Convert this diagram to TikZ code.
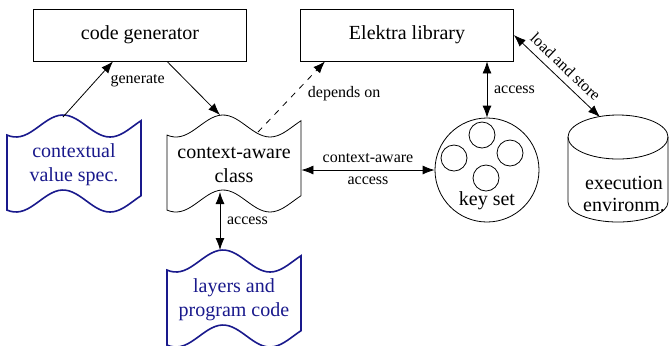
\documentclass[tikz,border=0pt]{standalone}
\usepackage{fontspec}
\setmainfont{LiberationSerif}[Extension=.ttf, UprightFont=*-Regular, BoldFont=*-Bold, ItalicFont=*-Italic, BoldItalicFont=*-BoldItalic]
\usetikzlibrary{arrows.meta}
\definecolor{darkblue}{rgb}{0.1,0.1,0.55}
% wavy sheet drawn round a node
\newcommand{\wavesheet}[2]{%
  \draw[#2, shift={(#1.center)}]
    plot[domain=-67:67, samples=40] (\x, {-39-11*cos(180*(\x+11)/47)})
    -- plot[domain=67:-67, samples=40] (\x, {36-11*cos(180*(\x+11)/47)}) -- cycle;}
\begin{document}
\begin{tikzpicture}[x=0.5pt,y=-0.5pt]
      \tikzstyle{STY1} = [draw, rectangle, minimum height=26pt, minimum width=106.5pt]
      \tikzstyle{STY2} = [minimum width=67pt, minimum height=37pt, align=center, inner sep=1pt]
      \tikzstyle{STY3} = [STY2, text=darkblue]
      \tikzstyle{STY4} = [draw, circle, minimum size=13pt, inner sep=0pt]
      \tikzstyle{STY5} = [-{Latex[length=6pt,width=4.5pt]}]
      \tikzstyle{STY6} = [{Latex[length=6pt,width=4.5pt]}-{Latex[length=6pt,width=4.5pt]}]
      \tikzstyle{STY7} = [font=\footnotesize]

      \useasboundingbox (0,0) rectangle (669,345);

      %%%%% NODES

      \node[STY1](gen) at (140, 35) {code generator};
      \node[STY1](lib) at (407, 35) {Elektra library};

      \node[STY3](spec) at (74, 165) {contextual\\value spec.};
      \node[STY2](cls) at (234, 165) {context-aware\\class};
      \node[STY3](code) at (234, 300) {layers and\\program code};
      \wavesheet{spec}{darkblue, thick}
      \wavesheet{cls}{black}
      \wavesheet{code}{darkblue, thick}

      \node[draw, circle, minimum size=52pt, inner sep=0pt](keys) at (487, 170) {};
      \node[STY4](k1) at (482, 135) {};
      \node[STY4](k2) at (454, 158) {};
      \node[STY4](k3) at (510, 153) {};
      \node[STY4](k4) at (486, 178) {};
      \node(ks) at (487, 201) {key set};

      % cylinder
      \draw (618, 137) ellipse [x radius=25pt, y radius=11pt];
      \draw (568, 137) -- (568, 202) arc[start angle=180, end angle=360, x radius=25pt, y radius=10pt] -- (668, 137);
      \coordinate (envtop) at (600, 117);
      \node[align=center, font=\fontsize{10}{11}\selectfont](env) at (624, 194) {execution\\environm.};

      %%%%% EDGES
      \draw[STY5]  ([shift={(-11,-48)}]spec.center) -- node[STY7, right, pos=0.65, xshift=4pt] {generate} ([xshift=-13.5pt]gen.south);
      \draw[STY5]  ([xshift=13.5pt]gen.south) -- ([shift={(-14,-50)}]cls.center);
      \draw[STY5, dashed]  ([shift={(24,-33)}]cls.center) -- node[STY7, right, pos=0.55, xshift=3pt] {depends on} ([xshift=-41pt]lib.south);
      \draw[STY6]  ([xshift=40pt]lib.south) -- node[STY7, right, midway] {access} (keys.north);
      \draw[STY6]  (lib.east) -- node[STY7, above, sloped, midway] {load and store} (envtop);
      \draw[STY6]  (cls.east |- keys.west) -- node[STY7, above, midway] {context-aware} node[STY7, below, midway] {access} (keys.west);
      \draw[STY6]  ([shift={(-14,27)}]cls.center) -- node[STY7, right, midway] {access} ([shift={(-14,-50)}]code.center);
\end{tikzpicture}
\end{document}
